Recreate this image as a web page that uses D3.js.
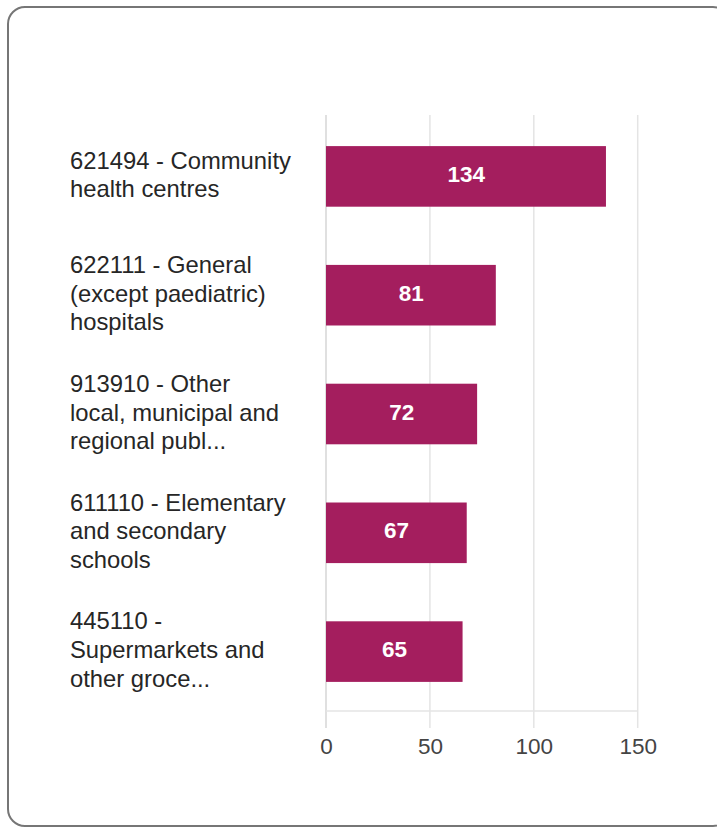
<!DOCTYPE html>
<html>
<head>
<meta charset="utf-8">
<script src="https://cdn.jsdelivr.net/npm/d3@7"></script>
<style>
  html, body { margin: 0; padding: 0; background: #fff; }
  svg { display: block; font-family: "Liberation Sans", Arial, sans-serif; }
</style>
</head>
<body>
<svg id="chart" width="717" height="827"></svg>
<script>
const categories = [
  ["621494 - Community", "health centres"],
  ["622111 - General", "(except paediatric)", "hospitals"],
  ["913910 - Other", "local, municipal and", "regional publ..."],
  ["611110 - Elementary", "and secondary", "schools"],
  ["445110 -", "Supermarkets and", "other groce..."]
];
const values = [134, 81, 72, 67, 65];
const tickValues = [0, 50, 100, 150];

const svg = d3.select("#chart");

// card border
svg.append("rect")
  .attr("x", 8).attr("y", 7)
  .attr("width", 722).attr("height", 819)
  .attr("rx", 17).attr("ry", 17)
  .attr("fill", "#fff")
  .attr("stroke", "#767676")
  .attr("stroke-width", 2);

const plot = { left: 326, right: 637.7, top: 117, bottom: 711 };

const x = d3.scaleLinear().domain([0, 150]).range([plot.left, plot.right]);
const idx = categories.map((d, i) => i);
const y = d3.scaleBand().domain(idx).range([plot.top, plot.bottom]).paddingInner(0.49).paddingOuter(0.245);

// gridlines (extend past axis as ticks)
svg.append("g").selectAll("line").data(tickValues).join("line")
  .attr("x1", d => x(d)).attr("x2", d => x(d))
  .attr("y1", 115).attr("y2", 728)
  .attr("stroke", d => d === 0 ? "#d6d6d6" : "#e4e4e4")
  .attr("stroke-width", 1.5);

// horizontal axis line
svg.append("line")
  .attr("x1", x(0)).attr("x2", x(150))
  .attr("y1", plot.bottom).attr("y2", plot.bottom)
  .attr("stroke", "#e4e4e4").attr("stroke-width", 1.5);

// tick labels via axis
const xAxis = d3.axisBottom(x).tickValues(tickValues).tickSize(0).tickPadding(0);
const ax = svg.append("g").attr("transform", `translate(0, ${754})`).call(xAxis);
ax.select(".domain").remove();
ax.selectAll("text")
  .attr("dy", 0)
  .attr("font-size", 22.5)
  .attr("font-family", "'Liberation Sans', Arial, sans-serif")
  .attr("fill", "#444");

// bars
svg.append("g").selectAll("rect").data(values).join("rect")
  .attr("x", x(0))
  .attr("y", (d, i) => y(i))
  .attr("width", d => x(d) - x(0) + 1.5)
  .attr("height", y.bandwidth())
  .attr("fill", "#a41e5e");

// value labels
svg.append("g").selectAll("text").data(values).join("text")
  .attr("x", d => (x(0) + x(d)) / 2 + 1)
  .attr("y", (d, i) => y(i) + y.bandwidth() / 2 - 2.5)
  .attr("dy", "0.36em")
  .attr("text-anchor", "middle")
  .attr("font-size", 22.5)
  .attr("font-weight", "bold")
  .attr("fill", "#fff")
  .text(d => d);

// category labels
const lineH = 28.7;
const lab = svg.append("g").selectAll("text").data(categories).join("text")
  .attr("x", 70)
  .attr("font-size", 23.8)
  .attr("fill", "#262626");
lab.each(function(lines, i) {
  const cy = y(i) + y.bandwidth() / 2 - 2;
  const start = cy - (lines.length - 1) * lineH / 2;
  d3.select(this).selectAll("tspan").data(lines).join("tspan")
    .attr("x", 70)
    .attr("y", (l, j) => start + j * lineH)
    .attr("dy", "0.36em")
    .text(l => l);
});
</script>
</body>
</html>
